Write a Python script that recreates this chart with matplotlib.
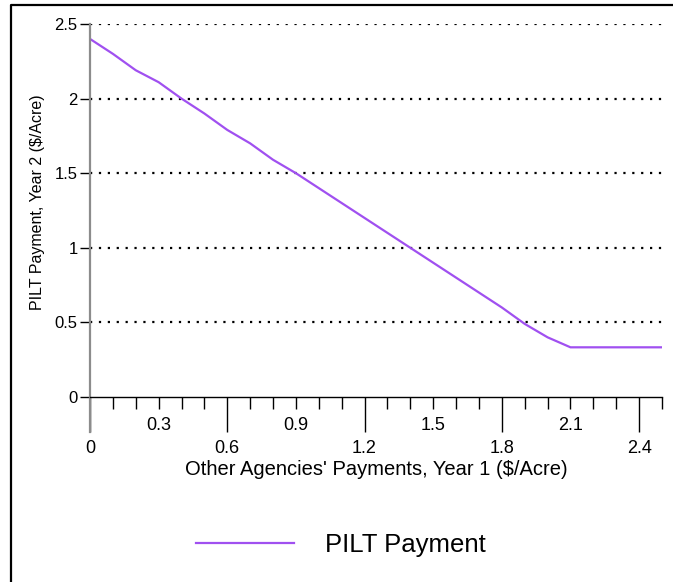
import matplotlib
matplotlib.use("Agg")
import matplotlib.pyplot as plt
from matplotlib.lines import Line2D

plt.rcParams['font.family'] = ['Liberation Sans', 'DejaVu Sans']

# ====== data ======
other_pay = [0.0, 0.1, 0.2, 0.3, 0.4, 0.5, 0.6, 0.7, 0.8, 0.9, 1.0, 1.1, 1.2,
             1.3, 1.4, 1.5, 1.6, 1.7, 1.8, 1.9, 2.0, 2.1, 2.2, 2.3, 2.4, 2.5]
pilt_pay = [2.40, 2.30, 2.19, 2.11, 2.00, 1.90, 1.79, 1.70, 1.59, 1.50, 1.40,
            1.30, 1.20, 1.10, 1.00, 0.90, 0.80, 0.70, 0.60, 0.49, 0.40, 0.333,
            0.333, 0.333, 0.333, 0.333]
y_ticks = [0, 0.5, 1, 1.5, 2, 2.5]
y_labels = ["0", "0.5", "1", "1.5", "2", "2.5"]
x_long = [0, 0.6, 1.2, 1.8, 2.4]
x_long_labels = ["0", "0.6", "1.2", "1.8", "2.4"]
x_mid = [0.3, 0.9, 1.5, 2.1]
x_mid_labels = ["0.3", "0.9", "1.5", "2.1"]
x_minor = [i / 10 for i in range(26)]

W, H = 673, 582
fig = plt.figure(figsize=(W / 100, H / 100), dpi=100)
ax = fig.add_axes([90 / W, (H - 432) / H, 572 / W, 408 / H])

ax.plot(other_pay, pilt_pay, color="#a050f0", lw=1.6, label="PILT Payment")

ax.set_xlim(0, 2.5)
ax.set_ylim(-0.2346, 2.5)

# spines
for s in ["top", "right"]:
    ax.spines[s].set_visible(False)
ax.spines["bottom"].set_position(("data", 0))
ax.spines["bottom"].set_color("black")
ax.spines["bottom"].set_linewidth(1.0)
ax.spines["left"].set_color("#8c8c8c")
ax.spines["left"].set_linewidth(1.6)

# y axis
ax.set_yticks(y_ticks)
ax.set_yticklabels(y_labels)
ax.tick_params(axis="y", length=7, width=1, color="black", pad=2, labelsize=12)
for yv in y_ticks[1:]:
    ax.axhline(yv, color="black", lw=1.6, ls=(0, (1, 3.0)), zorder=1)

# x axis
ax.set_xticks(x_long)
ax.set_xticklabels(x_long_labels)
ax.set_xticks(x_minor, minor=True)
ax.tick_params(axis="x", which="major", length=25, width=1, pad=6, labelsize=13)
ax.tick_params(axis="x", which="minor", length=8.5, width=1)
for xv, lab in zip(x_mid, x_mid_labels):
    ax.text(xv, 0.017, lab, transform=ax.get_xaxis_transform(),
            ha="center", va="center", fontsize=13)

ax.set_xlabel("Other Agencies' Payments, Year 1 ($/Acre)", fontsize=14.5, va="center")
ax.xaxis.set_label_coords(0.5, -0.093)
ax.set_ylabel("PILT Payment, Year 2 ($/Acre)", fontsize=11.5, va="center", ha="center")
ax.yaxis.set_label_coords(-0.091, 0.564)

fig.legend(loc="center", bbox_to_anchor=(341 / W, 1 - 545 / H), frameon=False,
           fontsize=18.5, handlelength=3.8, handletextpad=1.2)

# outer frame (left and top only)
fig.add_artist(Line2D([11 / W, 11 / W, 1.0], [0.0, 1 - 5 / H, 1 - 5 / H],
                      transform=fig.transFigure, color="black", lw=1.6))

fig.savefig("out.png", dpi=100)
